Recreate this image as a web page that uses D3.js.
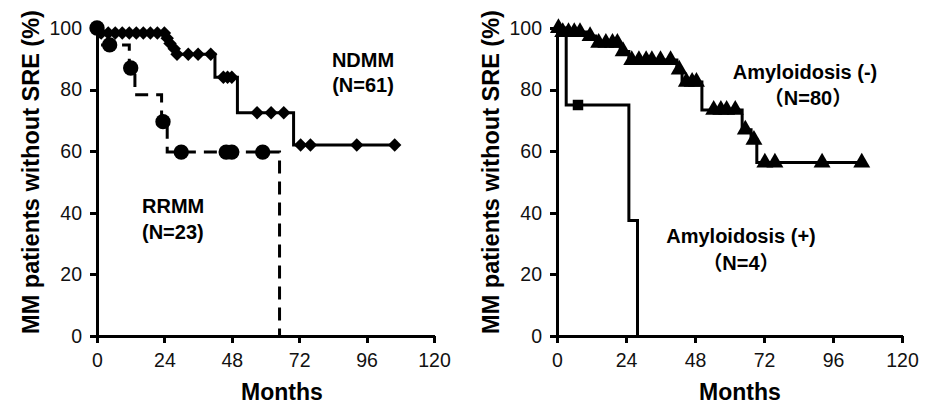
<!DOCTYPE html>
<html>
<head>
<meta charset="utf-8">
<script src="https://cdn.jsdelivr.net/npm/d3@7"></script>
<style>
    body { margin: 0; background: #fff; }
    svg { display: block; }
    .axis text { font-family: "Liberation Sans", Arial, sans-serif; font-size: 19.5px; fill: #111; }
    .axis path, .axis line { stroke: #000; stroke-width: 3px; shape-rendering: crispEdges; }
    .title, .note { font-family: "Liberation Sans", Arial, "Noto Sans CJK JP", sans-serif; font-weight: bold; fill: #000; }
</style>
</head>
<body>
<svg id="chart" width="933" height="404"></svg>
<script>
var monthTicks = [0, 24, 48, 72, 96, 120];
var percentTicks = [0, 20, 40, 60, 80, 100];

// [month, % without SRE] at each drop of the curve
var ndmmSteps = [[0, 100], [0.8, 98.4], [24.5, 96.7], [25.5, 95], [27, 93.3], [28, 91.5],
    [42, 84], [50, 72.5], [70, 62], [106, 62]];
var ndmmCensored = [0, 1.5, 4, 6.5, 9, 11.5, 14, 16.5, 19, 21.5, 24, 25, 26, 27.5, 28.5,
    32.5, 36, 40.5, 45, 46.5, 48, 57, 62, 66.5, 72.5, 76, 92.5, 106];

var rrmmSteps = [[0, 100], [1, 94.5], [11.5, 87], [13.5, 78.3], [23, 69.6], [25, 59.7], [65, 0]];
var rrmmCensored = [0, 4.5, 12, 23.5, 30, 46, 48, 59];

var amyNegSteps = [[0, 100], [1, 98.7], [10.5, 97.4], [13.5, 95.2], [22, 92.4], [25, 89.6],
    [41.7, 86.5], [43.5, 82.5], [50.4, 73.4], [64.4, 67], [67.5, 63.7], [69.5, 56.3], [106, 56.3]];
var amyNegCensored = [0.5, 2, 4, 6, 8, 11.5, 14.5, 17, 19.3, 21, 23, 26, 28.5, 31, 33, 36, 39.5,
    42.5, 45, 47, 48.5, 54.5, 57, 59, 62, 65.5, 68.5, 72.3, 75.8, 92.2, 106];

var amyPosSteps = [[0, 100], [3.2, 75], [25, 37.5], [28, 0]];
var amyPosCensored = [7.3];

/** panel layout **/
var panels = [
    {
        x0: 97, x1: 434, y0: 336, y1: 28,
        yTitleX: 39, monthsX: 282,
        curves: [
            {steps: rrmmSteps, censored: rrmmCensored, dash: "13,8", symbol: d3.symbolCircle, size: 185, rotate: 0},
            {steps: ndmmSteps, censored: ndmmCensored, dash: null, symbol: d3.symbolSquare, size: 90, rotate: 45}
        ],
        notes: [
            {text: "NDMM", x: 363, y: 67, anchor: "middle"},
            {text: "(N=61)", x: 363, y: 92, anchor: "middle"},
            {text: "RRMM", x: 142, y: 213, anchor: "start"},
            {text: "(N=23)", x: 142, y: 239, anchor: "start"}
        ]
    },
    {
        x0: 557, x1: 902, y0: 336, y1: 28,
        yTitleX: 499, monthsX: 740,
        curves: [
            {steps: amyPosSteps, censored: amyPosCensored, dash: null, symbol: d3.symbolSquare, size: 110, rotate: 0},
            {steps: amyNegSteps, censored: amyNegCensored, dash: null, symbol: d3.symbolTriangle, size: 125, rotate: 0}
        ],
        notes: [
            {text: "Amyloidosis (-)", x: 805, y: 79, anchor: "middle"},
            {text: "（N=80）", x: 808, y: 105, anchor: "middle"},
            {text: "Amyloidosis (+)", x: 741, y: 243, anchor: "middle"},
            {text: "（N=4）", x: 741, y: 270, anchor: "middle"}
        ]
    }
];

function survivalAt(steps, t) {
    var value = steps[0][1];
    steps.forEach(function(d) {
        if (d[0] <= t) value = d[1];
    });
    return value;
}

function drawPanel(svg, panel) {
    var x = d3.scaleLinear().domain([0, 120]).range([panel.x0, panel.x1]);
    var y = d3.scaleLinear().domain([0, 100]).range([panel.y0, panel.y1]);
    var g = svg.append("g");

    g.append("g")
            .attr("class", "axis")
            .attr("transform", "translate(0," + panel.y0 + ")")
            .call(d3.axisBottom(x).tickValues(monthTicks).tickSize(7).tickPadding(10).tickSizeOuter(0));

    g.append("g")
            .attr("class", "axis")
            .attr("transform", "translate(" + panel.x0 + ",0)")
            .call(d3.axisLeft(y).tickValues(percentTicks).tickSize(7).tickPadding(8).tickSizeOuter(0));

    g.selectAll(".axis text").attr("font-family", null).attr("font-size", null);

    var line = d3.line()
            .curve(d3.curveStepAfter)
            .x(function(d) { return x(d[0]); })
            .y(function(d) { return y(d[1]); });

    panel.curves.forEach(function(c) {
        g.append("path")
                .datum(c.steps)
                .attr("d", line)
                .attr("fill", "none")
                .attr("stroke", "#000")
                .attr("stroke-width", 3)
                .attr("stroke-dasharray", c.dash);

        g.selectAll(null).data(c.censored).enter()
                .append("path")
                .attr("d", d3.symbol().type(c.symbol).size(c.size))
                .attr("fill", "#000")
                .attr("transform", function(t) {
                    return "translate(" + x(t) + "," + y(survivalAt(c.steps, t)) + ") rotate(" + c.rotate + ")";
                });
    });

    g.append("text")
            .attr("class", "title")
            .attr("font-size", "23.5px")
            .attr("text-anchor", "middle")
            .attr("transform", "translate(" + panel.yTitleX + "," + ((panel.y0 + panel.y1) / 2 - 10) + ") rotate(-90)")
            .text("MM patients without SRE (%)");

    g.append("text")
            .attr("class", "title")
            .attr("font-size", "23px")
            .attr("text-anchor", "middle")
            .attr("x", panel.monthsX)
            .attr("y", 400)
            .text("Months");

    g.selectAll(".note").data(panel.notes).enter()
            .append("text")
            .attr("class", "note")
            .attr("font-size", "20px")
            .attr("text-anchor", function(d) { return d.anchor; })
            .attr("x", function(d) { return d.x; })
            .attr("y", function(d) { return d.y; })
            .text(function(d) { return d.text; });
}

var svg = d3.select("#chart");
panels.forEach(function(p) {
    drawPanel(svg, p);
});
</script>
</body>
</html>
